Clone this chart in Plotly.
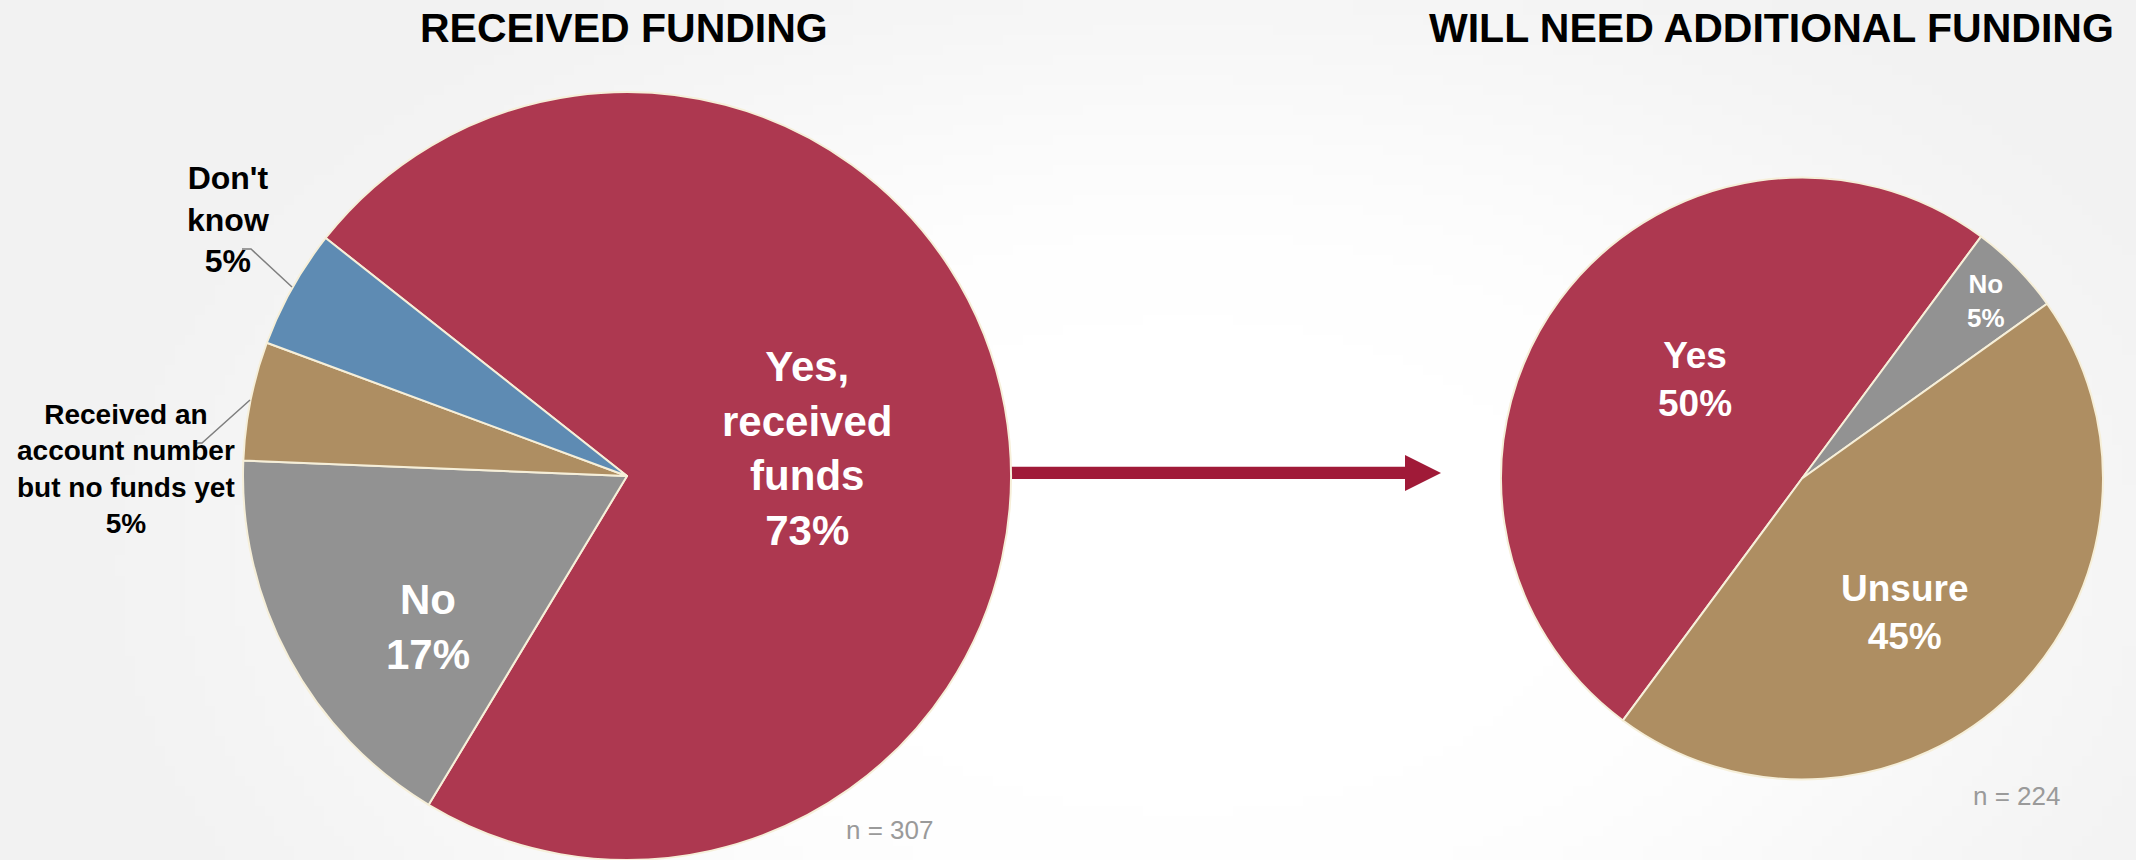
import zlib
import struct
import base64

import numpy as np
import plotly.graph_objects as go

W, H = 2136, 860

# ---- data -------------------------------------------------------------
titles = ["RECEIVED FUNDING", "WILL NEED ADDITIONAL FUNDING"]

recv_labels = ["Yes, received funds", "No",
               "Received an account number but no funds yet", "Don't know"]
recv_wrapped = ["Yes,<br>received<br>funds", "No",
                "Received an<br>account number<br>but no funds yet", "Don't<br>know"]
recv_values = [73, 17, 5, 5]
recv_n = 307

need_labels = ["Yes", "No", "Unsure"]
need_values = [50, 5, 45]
need_n = 224

# ---- styling ----------------------------------------------------------
RED, GRAY, TAN, BLUE = "#AD3850", "#929292", "#AE8E62", "#5E8BB3"
recv_colors = [RED, GRAY, TAN, BLUE]
need_colors = [RED, GRAY, TAN]
ARROW = "#A01A38"
EDGE = "#F6EFD9"
FONT = "Liberation Sans, Arial, sans-serif"


def fx(px):
    return px / W


def fy(py):
    return 1 - py / H


def pie_domain(cx, cy, r):
    return dict(x=[fx(cx - r), fx(cx + r)], y=[fy(cy + r), fy(cy - r)])


def gradient_png(w, h):
    """Soft radial grey-to-white backdrop encoded as a greyscale PNG data URI."""
    ys, xs = np.mgrid[0:h, 0:w]
    sx, sy = W / w, H / h
    dx = (xs * sx - 1180) / 1150
    dy = (ys * sy - 560) / 720
    d = np.sqrt(dx ** 2 + dy ** 2)
    t = np.clip((d - 0.35) / 0.7, 0, 1)
    t = t * t * (3 - 2 * t)
    img = (255 - 13 * t).astype(np.uint8)
    raw = b"".join(b"\x00" + row.tobytes() for row in img)

    def chunk(tag, data):
        body = tag + data
        return (struct.pack(">I", len(data)) + body
                + struct.pack(">I", zlib.crc32(body) & 0xFFFFFFFF))

    png = (b"\x89PNG\r\n\x1a\n"
           + chunk(b"IHDR", struct.pack(">IIBBBBB", w, h, 8, 0, 0, 0, 0))
           + chunk(b"IDAT", zlib.compress(raw, 9))
           + chunk(b"IEND", b""))
    return "data:image/png;base64," + base64.b64encode(png).decode()


fig = go.Figure()

fig.add_trace(go.Pie(
    labels=recv_labels, values=recv_values, sort=False,
    direction="clockwise", rotation=308.3,
    marker=dict(colors=recv_colors, line=dict(color=EDGE, width=2)),
    textinfo="none", hoverinfo="label+percent", showlegend=False,
    domain=pie_domain(627, 476, 384),
))

fig.add_trace(go.Pie(
    labels=need_labels, values=need_values, sort=False,
    direction="clockwise", rotation=216.5,
    marker=dict(colors=need_colors, line=dict(color=EDGE, width=2)),
    textinfo="none", hoverinfo="label+percent", showlegend=False,
    domain=pie_domain(1802, 478.5, 301),
))

annotations = []


def note(text, x, y, size, color, bold=True):
    annotations.append(dict(
        text=f"<b>{text}</b>" if bold else text,
        x=fx(x), y=fy(y), xref="paper", yref="paper",
        xanchor="center", yanchor="middle", showarrow=False,
        align="center", font=dict(family=FONT, size=size, color=color),
    ))


# titles
note(titles[0], 624, 28, 41, "black")
note(titles[1], 1771, 28, 41, "black")

# received-funding slice labels
note(f"{recv_wrapped[0]}<br>{recv_values[0]}%", 807, 448, 42, "white")
note(f"{recv_wrapped[1]}<br>{recv_values[1]}%", 428, 627, 42, "white")
note(f"{recv_wrapped[2]}<br>{recv_values[2]}%", 126, 469, 28, "black")
note(f"{recv_wrapped[3]}<br>{recv_values[3]}%", 228, 219, 32, "black")

# additional-funding slice labels
note(f"{need_labels[0]}<br>{need_values[0]}%", 1695, 379, 37, "white")
note(f"{need_labels[1]}<br>{need_values[1]}%", 1986, 301, 26, "white")
note(f"{need_labels[2]}<br>{need_values[2]}%", 1904, 612, 37, "white")

# sample sizes
note(f"n = {recv_n}", 889, 830, 26, "#9A9A9A", bold=False)
note(f"n = {need_n}", 2016, 796, 26, "#9A9A9A", bold=False)


def path(points):
    return "M " + " L ".join(f"{fx(x)},{fy(y)}" for x, y in points)


shapes = [
    # leader lines for the small outside labels
    dict(type="path", xref="paper", yref="paper",
         path=path([(242, 249), (251, 249), (292, 287)]),
         line=dict(color="#7F7F7F", width=1.5)),
    dict(type="path", xref="paper", yref="paper",
         path=path([(250, 400), (202, 443), (197, 443)]),
         line=dict(color="#7F7F7F", width=1.5)),
    # connecting arrow between the two pies
    dict(type="rect", xref="paper", yref="paper", layer="below",
         x0=fx(1000), x1=fx(1406), y0=fy(479), y1=fy(466.7),
         fillcolor=ARROW, line=dict(width=0)),
    dict(type="path", xref="paper", yref="paper",
         path=path([(1405, 455), (1441, 473), (1405, 491)]) + " Z",
         fillcolor=ARROW, line=dict(width=0)),
]

fig.update_layout(
    width=W, height=H,
    margin=dict(l=0, r=0, t=0, b=0),
    paper_bgcolor="white",
    font=dict(family=FONT),
    annotations=annotations,
    shapes=shapes,
    images=[dict(source=gradient_png(214, 86), xref="paper", yref="paper",
                 x=0, y=1, sizex=1, sizey=1, sizing="stretch",
                 xanchor="left", yanchor="top", layer="below")],
)

fig.write_html("out.html", config={"displayModeBar": False})
